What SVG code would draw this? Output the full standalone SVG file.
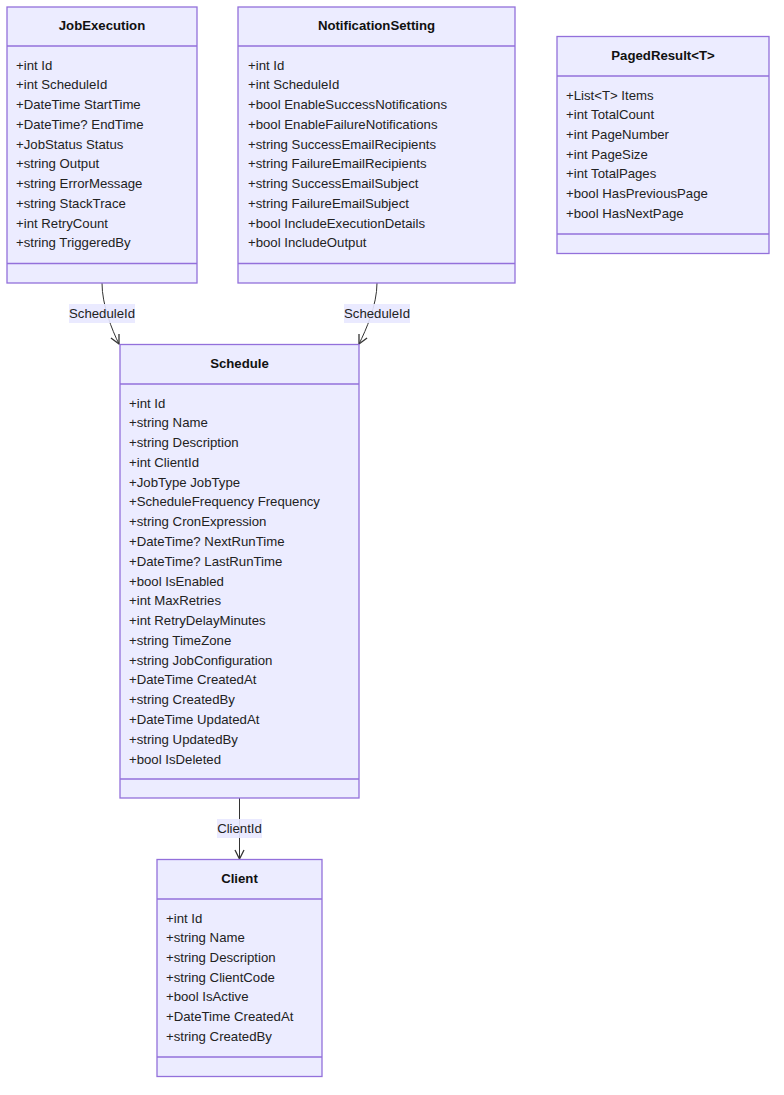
<svg xmlns="http://www.w3.org/2000/svg" width="784" height="1095" viewBox="0 0 784 1095">
<defs>
<marker id="arr" viewBox="0 0 12 12" refX="11" refY="6" markerWidth="12" markerHeight="12" markerUnits="userSpaceOnUse" orient="auto">
<path d="M2,1.5 L11,6 L2,10.5" fill="none" stroke="#333" stroke-width="1.3"/>
</marker>
</defs>
<style>
.box{fill:#ECECFF;stroke:#9370DB;stroke-width:1.3}
.sep{stroke:#9370DB;stroke-width:1.3}
.t{font-family:"Liberation Sans",Arial,sans-serif;font-size:13.2px;font-weight:bold;fill:#111;text-anchor:middle}
.m{font-family:"Liberation Sans",Arial,sans-serif;font-size:13.2px;fill:#222}
.e{fill:none;stroke:#333;stroke-width:1}
.lb{fill:#E8E8FF;opacity:0.9}
.l{font-family:"Liberation Sans",Arial,sans-serif;font-size:13.2px;fill:#222;text-anchor:middle}
</style>
<rect width="784" height="1095" fill="#ffffff"/>
<g id="connectors">
<path class="e" d="M102,283 C102,305 112,330 119,344" marker-end="url(#arr)"/>
<path class="e" d="M377,283 C377,305 366,330 359,344" marker-end="url(#arr)"/>
<path class="e" d="M239.5,798 L239.5,859" marker-end="url(#arr)"/>
<rect class="lb" x="69" y="304" width="66" height="19"/>
<text class="l" x="102" y="318">ScheduleId</text>
<rect class="lb" x="344" y="304" width="66" height="19"/>
<text class="l" x="377" y="318">ScheduleId</text>
<rect class="lb" x="217" y="819" width="45" height="19"/>
<text class="l" x="239.5" y="833">ClientId</text>
</g>
<g id="JobExecution">
<rect class="box" x="7" y="7" width="190" height="276"/>
<line class="sep" x1="7" y1="46" x2="197" y2="46"/>
<line class="sep" x1="7" y1="263.5" x2="197" y2="263.5"/>
<text class="t" x="102" y="30">JobExecution</text>
<text class="m" x="16" y="69.5">+int Id</text>
<text class="m" x="16" y="89.25">+int ScheduleId</text>
<text class="m" x="16" y="109">+DateTime StartTime</text>
<text class="m" x="16" y="128.75">+DateTime? EndTime</text>
<text class="m" x="16" y="148.5">+JobStatus Status</text>
<text class="m" x="16" y="168.25">+string Output</text>
<text class="m" x="16" y="188">+string ErrorMessage</text>
<text class="m" x="16" y="207.75">+string StackTrace</text>
<text class="m" x="16" y="227.5">+int RetryCount</text>
<text class="m" x="16" y="247.25">+string TriggeredBy</text>
</g>
<g id="NotificationSetting">
<rect class="box" x="238" y="7" width="277" height="276"/>
<line class="sep" x1="238" y1="46" x2="515" y2="46"/>
<line class="sep" x1="238" y1="263.5" x2="515" y2="263.5"/>
<text class="t" x="376.5" y="30">NotificationSetting</text>
<text class="m" x="248" y="69.5">+int Id</text>
<text class="m" x="248" y="89.25">+int ScheduleId</text>
<text class="m" x="248" y="109">+bool EnableSuccessNotifications</text>
<text class="m" x="248" y="128.75">+bool EnableFailureNotifications</text>
<text class="m" x="248" y="148.5">+string SuccessEmailRecipients</text>
<text class="m" x="248" y="168.25">+string FailureEmailRecipients</text>
<text class="m" x="248" y="188">+string SuccessEmailSubject</text>
<text class="m" x="248" y="207.75">+string FailureEmailSubject</text>
<text class="m" x="248" y="227.5">+bool IncludeExecutionDetails</text>
<text class="m" x="248" y="247.25">+bool IncludeOutput</text>
</g>
<g id="PagedResult">
<rect class="box" x="557" y="36.5" width="212" height="217"/>
<line class="sep" x1="557" y1="76" x2="769" y2="76"/>
<line class="sep" x1="557" y1="234" x2="769" y2="234"/>
<text class="t" x="663" y="60">PagedResult&lt;T&gt;</text>
<text class="m" x="566" y="99.5">+List&lt;T&gt; Items</text>
<text class="m" x="566" y="119.2">+int TotalCount</text>
<text class="m" x="566" y="138.9">+int PageNumber</text>
<text class="m" x="566" y="158.6">+int PageSize</text>
<text class="m" x="566" y="178.3">+int TotalPages</text>
<text class="m" x="566" y="198">+bool HasPreviousPage</text>
<text class="m" x="566" y="217.7">+bool HasNextPage</text>
</g>
<g id="Schedule">
<rect class="box" x="120" y="344.5" width="239" height="453.5"/>
<line class="sep" x1="120" y1="384" x2="359" y2="384"/>
<line class="sep" x1="120" y1="779" x2="359" y2="779"/>
<text class="t" x="239.5" y="368">Schedule</text>
<text class="m" x="129" y="407.5">+int Id</text>
<text class="m" x="129" y="427.3">+string Name</text>
<text class="m" x="129" y="447">+string Description</text>
<text class="m" x="129" y="466.8">+int ClientId</text>
<text class="m" x="129" y="486.6">+JobType JobType</text>
<text class="m" x="129" y="506.4">+ScheduleFrequency Frequency</text>
<text class="m" x="129" y="526.2">+string CronExpression</text>
<text class="m" x="129" y="545.9">+DateTime? NextRunTime</text>
<text class="m" x="129" y="565.7">+DateTime? LastRunTime</text>
<text class="m" x="129" y="585.5">+bool IsEnabled</text>
<text class="m" x="129" y="605.3">+int MaxRetries</text>
<text class="m" x="129" y="625">+int RetryDelayMinutes</text>
<text class="m" x="129" y="644.8">+string TimeZone</text>
<text class="m" x="129" y="664.6">+string JobConfiguration</text>
<text class="m" x="129" y="684.4">+DateTime CreatedAt</text>
<text class="m" x="129" y="704.2">+string CreatedBy</text>
<text class="m" x="129" y="723.9">+DateTime UpdatedAt</text>
<text class="m" x="129" y="743.7">+string UpdatedBy</text>
<text class="m" x="129" y="763.5">+bool IsDeleted</text>
</g>
<g id="Client">
<rect class="box" x="157" y="859.5" width="165" height="217"/>
<line class="sep" x1="157" y1="899" x2="322" y2="899"/>
<line class="sep" x1="157" y1="1057" x2="322" y2="1057"/>
<text class="t" x="239.5" y="883">Client</text>
<text class="m" x="166" y="922.5">+int Id</text>
<text class="m" x="166" y="942.2">+string Name</text>
<text class="m" x="166" y="961.8">+string Description</text>
<text class="m" x="166" y="981.5">+string ClientCode</text>
<text class="m" x="166" y="1001.2">+bool IsActive</text>
<text class="m" x="166" y="1020.8">+DateTime CreatedAt</text>
<text class="m" x="166" y="1040.5">+string CreatedBy</text>
</g>
</svg>
